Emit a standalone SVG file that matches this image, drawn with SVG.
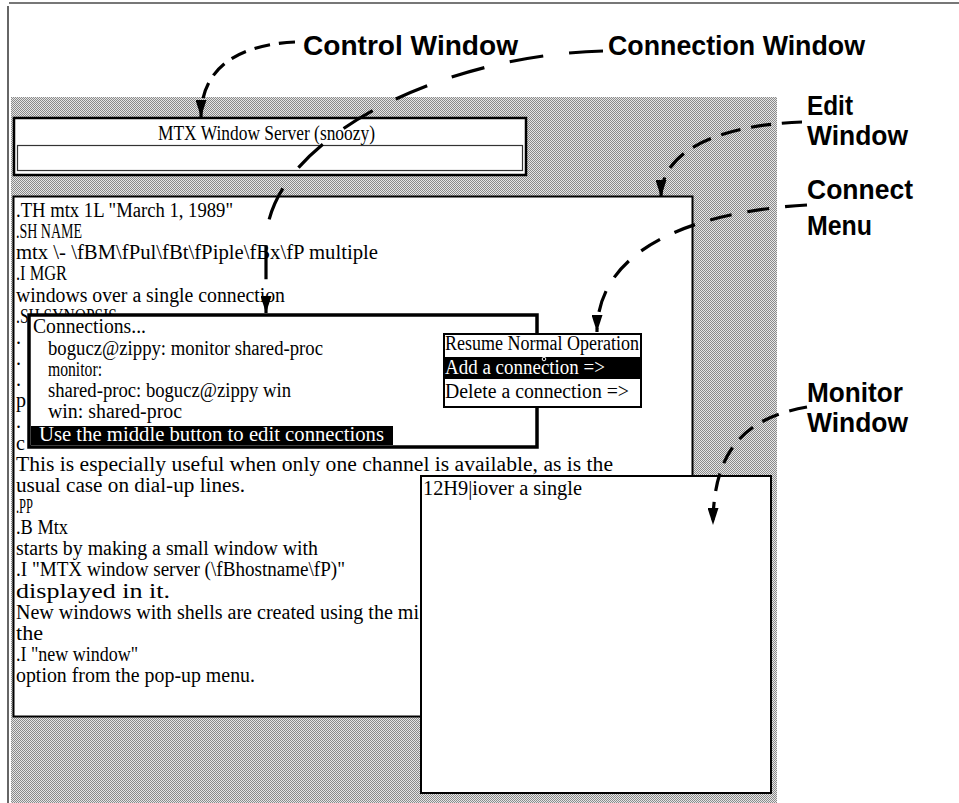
<svg xmlns="http://www.w3.org/2000/svg" width="959" height="803" viewBox="0 0 959 803">
<style>
.scr{font-family:"Liberation Serif","DejaVu Serif",serif;font-size:20px;fill:#000}
.inv{fill:#fff}
.lbl{font-family:"Liberation Sans",Arial,sans-serif;font-weight:bold;font-size:27px;fill:#000}
.top{font-size:28px}
.win{fill:#fff;stroke:#000}
.dash{fill:none;stroke:#000;stroke-width:3.2}
</style>
<defs>
<pattern id="dither" width="2" height="2" patternUnits="userSpaceOnUse">
<rect width="2" height="2" fill="#e6e6e6"/>
<rect x="0" y="0" width="1" height="1" fill="#8a8a8a"/>
<rect x="1" y="1" width="1" height="1" fill="#8a8a8a"/>
</pattern>
<marker id="ah" viewBox="0 0 17 11" refX="17" refY="5.5" markerWidth="17" markerHeight="11" markerUnits="userSpaceOnUse" orient="auto">
<path d="M0,0 L17,5.5 L0,11 Z" fill="#000"/>
</marker>
</defs>
<rect width="959" height="803" fill="#fff"/>
<g id="frame">
<line x1="9" y1="3" x2="959" y2="3" stroke="#777" stroke-width="2"/>
<line x1="8" y1="6" x2="8" y2="803" stroke="#666" stroke-width="2"/>
<rect x="11" y="97" width="766" height="706" fill="url(#dither)"/>
</g>
<g id="control-window">
<rect class="win" x="14" y="118" width="512" height="57" stroke-width="2.5"/>
<rect x="17.5" y="145.5" width="505" height="25" fill="#fff" stroke="#333" stroke-width="1.2"/>
<text class="scr" x="158" y="140" textLength="217" lengthAdjust="spacingAndGlyphs">MTX Window Server (snoozy)</text>
</g>
<g id="edit-window">
<rect class="win" x="13.5" y="196.5" width="679" height="520" stroke-width="2"/>
<text class="scr" x="16" y="217" textLength="217" lengthAdjust="spacingAndGlyphs">.TH mtx 1L "March 1, 1989"</text>
<text class="scr" x="16" y="238" textLength="66" lengthAdjust="spacingAndGlyphs">.SH NAME</text>
<text class="scr" x="16" y="259" textLength="362" lengthAdjust="spacingAndGlyphs">mtx \- \fBM\fPul\fBt\fPiple\fBx\fP multiple</text>
<text class="scr" x="16" y="280" textLength="51" lengthAdjust="spacingAndGlyphs">.I MGR</text>
<text class="scr" x="16" y="302" textLength="269" lengthAdjust="spacingAndGlyphs">windows over a single connection</text>
<text class="scr" x="16" y="323" textLength="101" lengthAdjust="spacingAndGlyphs">.SH SYNOPSIS</text>
<text class="scr" x="16" y="344">.</text>
<text class="scr" x="16" y="365">.</text>
<text class="scr" x="16" y="386">.</text>
<text class="scr" x="16" y="407">p</text>
<text class="scr" x="16" y="428">.</text>
<text class="scr" x="16" y="450">c</text>
<text class="scr" x="16" y="471" textLength="597" lengthAdjust="spacingAndGlyphs">This is especially useful when only one channel is available, as is the</text>
<text class="scr" x="16" y="492" textLength="229" lengthAdjust="spacingAndGlyphs">usual case on dial-up lines.</text>
<text class="scr" x="16" y="513" textLength="17" lengthAdjust="spacingAndGlyphs">.PP</text>
<text class="scr" x="16" y="534" textLength="52" lengthAdjust="spacingAndGlyphs">.B Mtx</text>
<text class="scr" x="16" y="555" textLength="302" lengthAdjust="spacingAndGlyphs">starts by making a small window with</text>
<text class="scr" x="16" y="576" textLength="329" lengthAdjust="spacingAndGlyphs">.I "MTX window server (\fBhostname\fP)"</text>
<text class="scr" x="16" y="598" textLength="154" lengthAdjust="spacingAndGlyphs">displayed in it.</text>
<text class="scr" x="16" y="619" textLength="403" lengthAdjust="spacingAndGlyphs">New windows with shells are created using the mi</text>
<text class="scr" x="16" y="640" textLength="27" lengthAdjust="spacingAndGlyphs">the</text>
<text class="scr" x="16" y="661" textLength="122" lengthAdjust="spacingAndGlyphs">.I "new window"</text>
<text class="scr" x="16" y="682" textLength="239" lengthAdjust="spacingAndGlyphs">option from the pop-up menu.</text>
</g>
<g id="connection-window">
<rect class="win" x="29" y="315" width="508" height="132" stroke-width="3.5"/>
<text class="scr" x="33" y="333" textLength="113" lengthAdjust="spacingAndGlyphs">Connections...</text>
<text class="scr" x="48" y="355" textLength="275" lengthAdjust="spacingAndGlyphs">bogucz@zippy: monitor shared-proc</text>
<text class="scr" x="48" y="376" textLength="54" lengthAdjust="spacingAndGlyphs">monitor:</text>
<text class="scr" x="48" y="397" textLength="243" lengthAdjust="spacingAndGlyphs">shared-proc: bogucz@zippy win</text>
<text class="scr" x="48" y="418" textLength="134" lengthAdjust="spacingAndGlyphs">win: shared-proc</text>
<rect x="31" y="426" width="362" height="19" fill="#000"/>
<text class="scr inv" x="39" y="441" textLength="345" lengthAdjust="spacingAndGlyphs">Use the middle button to edit connections</text>
</g>
<g id="connect-menu">
<rect class="win" x="444" y="334" width="197" height="73" stroke-width="2"/>
<text class="scr" x="445" y="350" textLength="194" lengthAdjust="spacingAndGlyphs">Resume Normal Operation</text>
<rect x="445" y="357" width="195" height="22" fill="#000"/>
<text class="scr inv" x="445" y="374" textLength="160" lengthAdjust="spacingAndGlyphs">Add a connection =&gt;</text>
<circle cx="544" cy="359" r="1.8" fill="none" stroke="#fff" stroke-width="1"/>
<text class="scr" x="445" y="398" textLength="184" lengthAdjust="spacingAndGlyphs">Delete a connection =&gt;</text>
</g>
<g id="monitor-window">
<rect class="win" x="421" y="476" width="350" height="317" stroke-width="2"/>
<text class="scr" x="423" y="495" textLength="159" lengthAdjust="spacingAndGlyphs">12H9|iover a single</text>
</g>
<g id="connectors">
<path class="dash" d="M295,42 C235,45 201,70 201,117" stroke-dasharray="16 9" marker-end="url(#ah)"/>
<path class="dash" d="M603,51 C440,55 270,140 266,240 L266,313" stroke-dasharray="34 26" marker-end="url(#ah)"/>
<path class="dash" d="M802,122 C720,125 661,150 661,197" stroke-dasharray="20 11" marker-end="url(#ah)"/>
<path class="dash" d="M807,205 C690,212 597,250 597,332" stroke-dasharray="22 16" marker-end="url(#ah)"/>
<path class="dash" d="M807,407 C745,418 713,450 713,525" stroke-dasharray="18 11" marker-end="url(#ah)"/>
</g>
<g id="labels">
<text class="lbl top" x="303" y="55" textLength="215" lengthAdjust="spacingAndGlyphs">Control Window</text>
<text class="lbl top" x="608" y="55" textLength="257" lengthAdjust="spacingAndGlyphs">Connection Window</text>
<text class="lbl" x="807" y="115" textLength="46" lengthAdjust="spacingAndGlyphs">Edit</text>
<text class="lbl" x="807" y="145" textLength="101" lengthAdjust="spacingAndGlyphs">Window</text>
<text class="lbl" x="807" y="199" textLength="106" lengthAdjust="spacingAndGlyphs">Connect</text>
<text class="lbl" x="807" y="235" textLength="65" lengthAdjust="spacingAndGlyphs">Menu</text>
<text class="lbl" x="807" y="402" textLength="96" lengthAdjust="spacingAndGlyphs">Monitor</text>
<text class="lbl" x="807" y="432" textLength="101" lengthAdjust="spacingAndGlyphs">Window</text>
</g>
</svg>
